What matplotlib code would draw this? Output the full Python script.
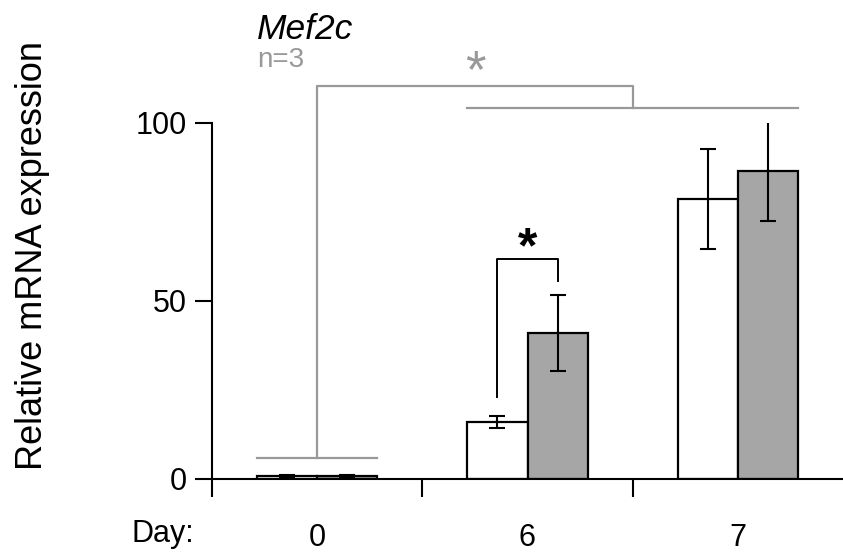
import numpy as np
import matplotlib
matplotlib.use("Agg")
import matplotlib.pyplot as plt

plt.rcParams['font.family'] = ['Liberation Sans', 'DejaVu Sans']

days = ["0", "6", "7"]
control = [0.8, 16.0, 78.7]
control_err = [0.3, 1.7, 14.0]
treated = [0.8, 41.0, 86.5]
treated_err = [0.3, 10.7, 14.0]

gene = "Mef2c"
n_label = "n=3"

grey = "#999999"
bar_grey = "#a6a6a6"

fig = plt.figure(figsize=(8.43, 5.56), dpi=100)
ax = fig.add_axes([212/843, 77/556, 631/843, 356/556])

x = np.arange(len(days))
w = 2/7
ekw = dict(ecolor="black", elinewidth=1.5, capsize=6, capthick=1.5)
ax.bar(x - w/2, control, w, color="white", edgecolor="black", linewidth=1.6,
       yerr=control_err, error_kw=ekw)
ax.bar(x + w/2, treated, w, color=bar_grey, edgecolor="black", linewidth=1.6,
       yerr=treated_err, error_kw=ekw)

ax.set_xlim(-0.5, 2.5)
ax.set_ylim(0, 100)
ax.set_yticks([0, 50, 100])
ax.tick_params(axis="y", direction="out", length=12, width=1.5, labelsize=22, pad=6)
ax.set_xticks(x)
ax.set_xticklabels(days)
ax.set_xticks([-0.5, 0.5, 1.5], minor=True)
ax.tick_params(axis="x", which="major", length=0, labelsize=22, pad=32)
ax.tick_params(axis="x", which="minor", direction="out", length=13, width=1.5)
for s in ["top", "right"]:
    ax.spines[s].set_visible(False)
for s in ["left", "bottom"]:
    ax.spines[s].set_linewidth(1.5)

ax.text(-0.285, 0.629, "Relative mRNA expression", transform=ax.transAxes,
        rotation=90, ha="center", va="center", fontsize=26)
ax.text(-0.585, -15.5, "Day:", ha="right", va="center", fontsize=22, clip_on=False)

# day 6 significance bracket
ax.plot([1 - w/2, 1 - w/2, 1 + w/2, 1 + w/2], [23, 61.8, 61.8, 55.6],
        color="black", lw=1.4, clip_on=False)
ax.text(1.0, 58.0, "*", ha="center", va="bottom", fontsize=36, fontweight="bold")

# day 0 vs day 6/7 bracket
ax.plot([-w, w], [5.9, 5.9], color=grey, lw=1.6, clip_on=False)
ax.plot([0, 0, 1.5, 1.5], [5.9, 110.4, 110.4, 104.2], color=grey, lw=1.6, clip_on=False)
ax.plot([1 - w, 2 + w], [104.2, 104.2], color=grey, lw=1.6, clip_on=False)
ax.text(0.752, 107.0, "*", ha="center", va="bottom", fontsize=38,
        color=grey, clip_on=False)

ax.text(-w, 126.3, gene, ha="left", va="center", fontsize=25.5, style="italic", clip_on=False)
ax.text(-w, 117.7, n_label, ha="left", va="center", fontsize=20, color=grey, clip_on=False)

fig.savefig("out.png", dpi=100)
